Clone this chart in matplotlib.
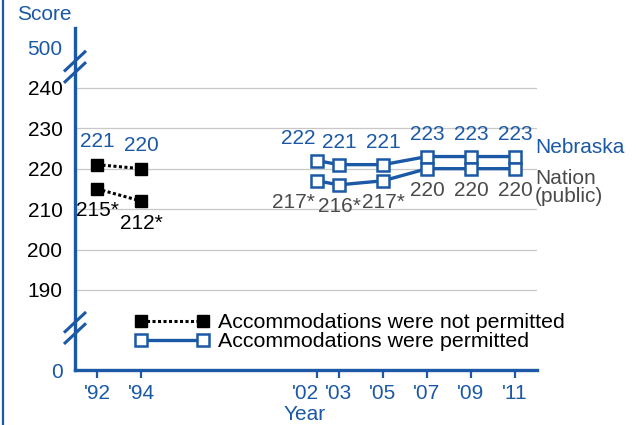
import numpy as np
import matplotlib
matplotlib.use("Agg")
import matplotlib.pyplot as plt
import matplotlib.transforms as mtransforms
from matplotlib.lines import Line2D

plt.rcParams['font.family'] = ['Liberation Sans', 'DejaVu Sans']

# data
years_np = [1992, 1994]
ne_np = [221, 220]
nat_np = [215, 212]
ne_np_lbl = ['221', '220']
nat_np_lbl = ['215*', '212*']

years_p = [2002, 2003, 2005, 2007, 2009, 2011]
ne_p = [222, 221, 221, 223, 223, 223]
nat_p = [217, 216, 217, 220, 220, 220]
ne_p_lbl = ['222', '221', '221', '223', '223', '223']
nat_p_lbl = ['217*', '216*', '217*', '220', '220', '220']

xtick_years = [1992, 1994, 2002, 2003, 2005, 2007, 2009, 2011]
xtick_labels = ["'92", "'94", "'02", "'03", "'05", "'07", "'09", "'11"]
grid_scores = [190, 200, 210, 220, 230, 240]
# broken axis: 0 and 500 are drawn at stand-in positions
zero_pos, top_pos = 170.2, 250.0

BLUE = '#1b58a5'
GREY = '#4a4a4a'
FS = 15

fig = plt.figure(figsize=(6.36, 4.25), dpi=100)
ax = fig.add_axes([75/636, 55/425, 462/636, 342/425])
ax.set_xlim(1991, 2012)
ax.set_ylim(zero_pos, 254.8)

for g in grid_scores:
    ax.axhline(g, color='#c8c8c8', lw=0.9, zorder=0)

# not permitted (black, dotted)
ax.plot(years_np, ne_np, color='black', ls=(0, (1, 0.8)), lw=2.2, marker='s',
        ms=9, mfc='black', mec='black', zorder=3)
ax.plot(years_np, nat_np, color='black', ls=(0, (1, 0.8)), lw=2.2, marker='s',
        ms=9, mfc='black', mec='black', zorder=3)

# permitted (blue, open squares)
ax.plot(years_p, ne_p, color=BLUE, lw=2.4, marker='s', ms=8, mfc='white',
        mec=BLUE, mew=1.8, zorder=3)
ax.plot(years_p, nat_p, color=BLUE, lw=2.4, marker='s', ms=8, mfc='white',
        mec=BLUE, mew=1.8, zorder=3)

# value labels
for x, y, s in zip(years_np, ne_np, ne_np_lbl):
    ax.annotate(s, (x, y), xytext=(0, 23), textcoords='offset pixels',
                ha='center', va='center', color=BLUE, fontsize=FS)
for x, y, s in zip(years_np, nat_np, nat_np_lbl):
    ax.annotate(s, (x, y), xytext=(0, -22), textcoords='offset pixels',
                ha='center', va='center', color='black', fontsize=FS)
for i, (x, y, s) in enumerate(zip(years_p, ne_p, ne_p_lbl)):
    dx = -19 if i == 0 else 0
    ax.annotate(s, (x, y), xytext=(dx, 22), textcoords='offset pixels',
                ha='center', va='center', color=BLUE, fontsize=FS)
for i, (x, y, s) in enumerate(zip(years_p, nat_p, nat_p_lbl)):
    dx = -24 if i == 0 else 0
    ax.annotate(s, (x, y), xytext=(dx, -22), textcoords='offset pixels',
                ha='center', va='center', color=GREY, fontsize=FS)

# series names
ax.annotate('Nebraska', (years_p[-1], ne_p[-1]), xytext=(20, 9),
            textcoords='offset pixels', ha='left', va='center',
            color=BLUE, fontsize=FS, annotation_clip=False)
ax.annotate('Nation\n(public)', (years_p[-1], nat_p[-1]), xytext=(20, -19),
            textcoords='offset pixels', ha='left', va='center', color=GREY,
            fontsize=FS, linespacing=0.95, annotation_clip=False)

# axes styling
for side in ['top', 'right']:
    ax.spines[side].set_visible(False)
for side in ['left', 'bottom']:
    ax.spines[side].set_color(BLUE)
    ax.spines[side].set_linewidth(2.4)

ax.set_yticks([zero_pos] + grid_scores + [top_pos])
ax.set_yticklabels(['0'] + [str(g) for g in grid_scores] + ['500'], fontsize=FS)
ax.tick_params(axis='y', length=0, pad=9)
ylabels = ax.get_yticklabels()
ylabels[0].set_color(BLUE)
ylabels[-1].set_color(BLUE)

ax.set_xticks(xtick_years)
ax.set_xticklabels(xtick_labels, fontsize=FS, color=BLUE)
ax.tick_params(axis='x', length=6, width=1.6, color=BLUE, pad=4)
# '02 is nudged left so it does not run into '03
lab02 = ax.get_xticklabels()[2]
lab02.set_transform(lab02.get_transform() +
                    mtransforms.ScaledTranslation(-12/100, 0, fig.dpi_scale_trans))

# axis break marks
for yc in [245.2, 180.6]:
    for off in [-1.4, 1.4]:
        ax.plot([1991 - 0.45, 1991 + 0.45], [yc + off - 2.3, yc + off + 2.3],
                color=BLUE, lw=2.2, clip_on=False, zorder=5)

fig.text(17/636, 1 - 15/425, 'Score', color=BLUE, fontsize=FS, ha='left', va='center')
fig.text(305/636, 1 - 414/425, 'Year', color=BLUE, fontsize=FS, ha='center', va='center')

# left border line
fig.add_artist(Line2D([3/636, 3/636], [0, 1], color=BLUE, lw=1.6))

handles = [
    Line2D([], [], color='black', ls=(0, (1, 0.8)), lw=2.2, marker='s', ms=9,
           mfc='black', mec='black'),
    Line2D([], [], color=BLUE, lw=2.4, marker='s', ms=8, mfc='white', mec=BLUE,
           mew=1.8),
]
ax.legend(handles, ['Accommodations were not permitted', 'Accommodations were permitted'],
          loc='upper left', bbox_to_anchor=(130/636, 1 - 309/425),
          bbox_transform=fig.transFigure, frameon=False, fontsize=15.4,
          numpoints=2, handlelength=3.5, handletextpad=0.4, labelspacing=0.0,
          borderpad=0.2, borderaxespad=0)

fig.savefig('out.png', dpi=100)
